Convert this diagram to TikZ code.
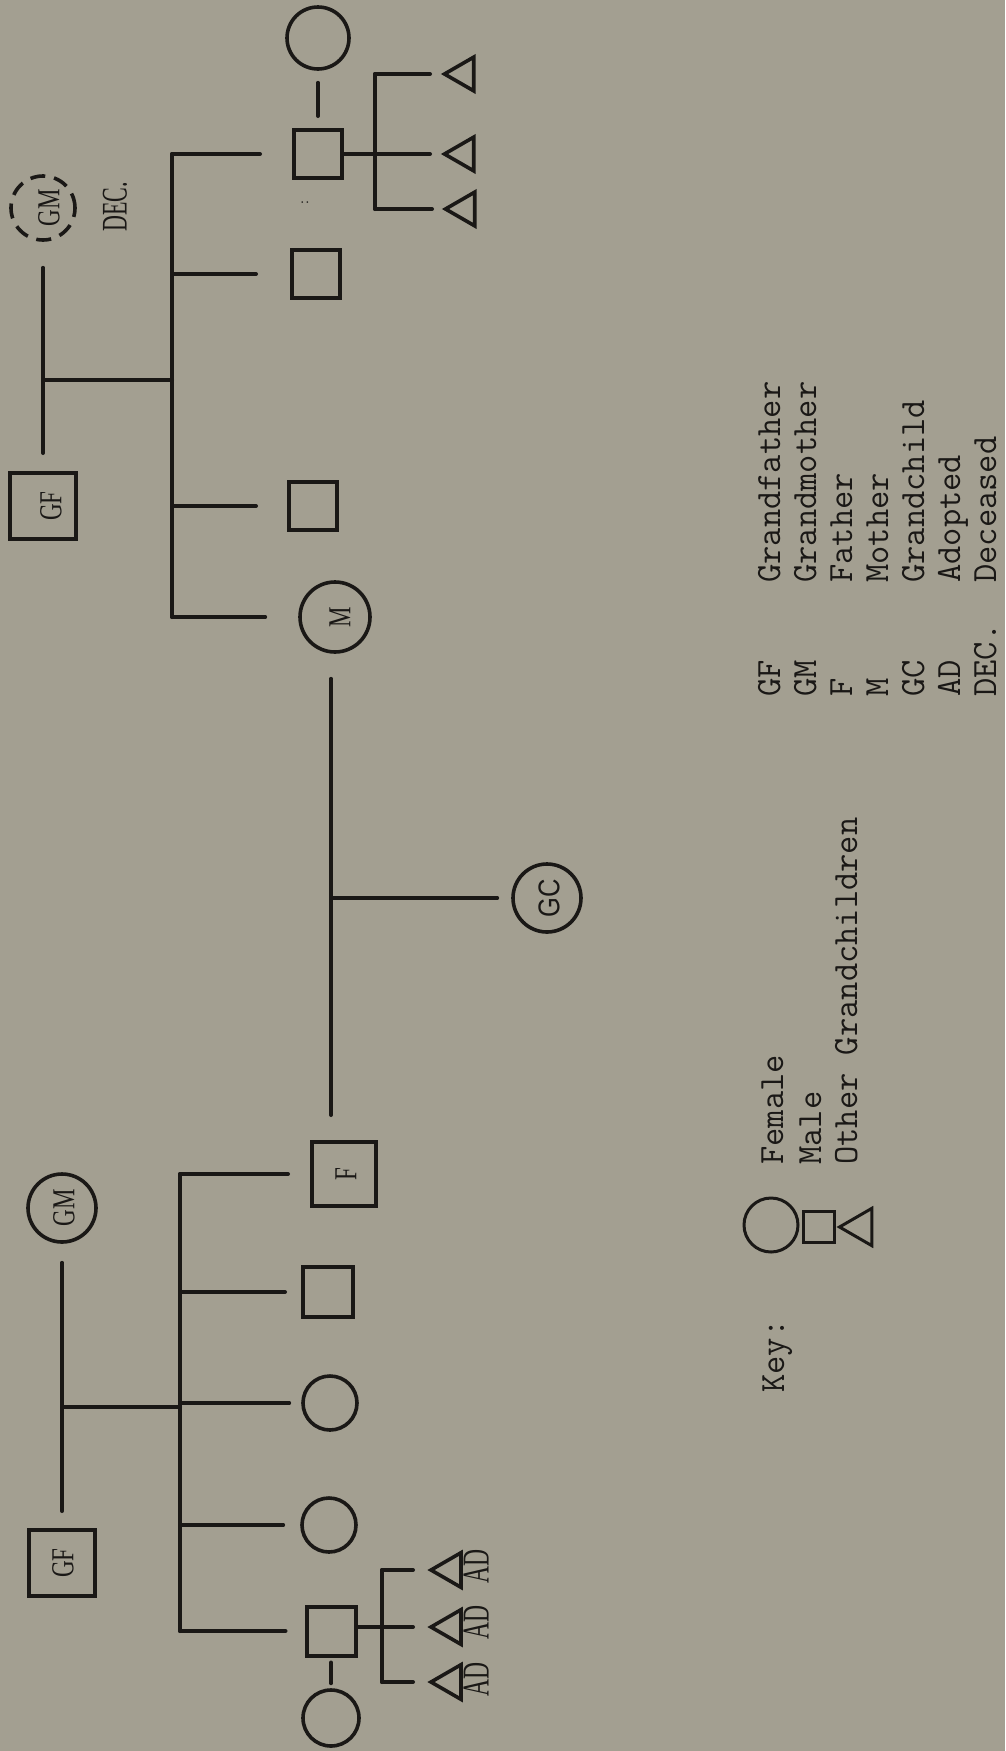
\documentclass[tikz,border=0pt]{standalone}
\usepackage{fontspec}
\newfontfamily\lserif{Liberation Serif}
\newfontfamily\lsans{Liberation Sans}
\usetikzlibrary{shapes.geometric}
\definecolor{paper}{RGB}{163,159,145}
\definecolor{ink}{RGB}{26,24,22}
\begin{document}
\begin{tikzpicture}[x=1pt,y=-1pt,
  ln/.style={draw=ink, line width=4pt, line cap=round},
  sq/.style={draw=ink, line width=4pt, rectangle, minimum size=#1, inner sep=0pt},
  circ/.style={draw=ink, line width=3.6pt, circle, minimum size=#1, inner sep=0pt},
  tri/.style={draw=ink, line width=3.6pt, regular polygon, regular polygon sides=3, rotate=90, minimum size=#1, inner sep=0pt},
  lbl/.style={text=ink, font=\lserif\fontsize{32}{32}\selectfont, rotate=90, xscale=0.72, inner sep=0pt},
  adlbl/.style={text=ink, font=\lserif\fontsize{38}{38}\selectfont, rotate=90, xscale=0.62, inner sep=0pt},
  gclbl/.style={text=ink, font=\lsans\fontsize{30}{30}\selectfont, rotate=90, xscale=0.85, inner sep=0pt},
  leg/.style={text=ink, font=\ttfamily\fontsize{35.5}{35.5}\selectfont, rotate=90, anchor=base west, inner sep=0pt},
]
\fill[paper] (0,0) rectangle (1005,1751);
\useasboundingbox (0,0) rectangle (1005,1751);

% ---------- right family (mother's side) ----------
\node[circ=64pt, dash pattern=on 15pt off 9pt] (rgm) at (43,208) {};
\node[lbl] (rgmt) at (49,208) {GM};
\node[lbl, font=\lserif\fontsize{36}{36}\selectfont, xscale=0.85] (dec) at (115,207) {DEC.};
\node[sq=66pt] (rgf) at (43,506) {};
\node[lbl] (rgft) at (51,506) {GF};
\coordinate (rj) at (43,380);
\coordinate (rsx) at (172,380);
\draw[ln, shorten <=26pt, shorten >=18pt] (rgm) -- (rgf);
\draw[ln] (rj) -- (rsx);

\node[circ=62pt] (rsp) at (318,38) {};
\node[sq=48pt] (rs1) at (318,154) {};
\node[sq=48pt] (rs2) at (316,274) {};
\node[sq=48pt] (rs3) at (313,506) {};
\node[circ=70pt] (rm) at (335,617) {};
\node[lbl] (rmt) at (340,617) {M};
\node[text=ink, font=\lserif\fontsize{14}{14}\selectfont, rotate=90, inner sep=0pt] (colon) at (305,203) {:};

\draw[ln] (rs1 -| rsx) -- (rm -| rsx);
\draw[ln, shorten >=32pt] (rs1 -| rsx) -- (rs1.west);
\draw[ln, shorten >=34pt] (rs2 -| rsx) -- (rs2.west);
\draw[ln, shorten >=31pt] (rs3 -| rsx) -- (rs3.west);
\draw[ln, shorten >=33pt] (rm -| rsx) -- (rm.west);
\draw[ln, shorten <=12pt, shorten >=12pt] (rsp) -- (rs1);

\node[tri=39pt] (rt1) at (464,74) {};
\node[tri=39pt] (rt2) at (464,154) {};
\node[tri=39pt] (rt3) at (465,209) {};
\coordinate (rbx) at (375,154);
\draw[ln] (rs1.east) -- ([xshift=-34pt]rt2.center);
\draw[ln] (rbx |- rt1) -- (rbx |- rt3);
\draw[ln] (rbx |- rt1) -- ([xshift=-34pt]rt1.center);
\draw[ln] (rbx |- rt3) -- ([xshift=-33pt]rt3.center);

% ---------- parents and grandchild ----------
\node[sq=64pt] (lf) at (344,1174) {};
\node[lbl] (lft) at (346,1174) {F};
\coordinate (fmx) at (331,898);
\draw[ln, shorten <=25pt, shorten >=25pt] (rm.south -| fmx) -- (lf.north -| fmx);
\node[circ=68pt] (gc) at (547,898) {};
\node[gclbl] (gct) at (549,898) {GC};
\draw[ln, shorten >=14pt] (fmx) -- (gc.west);

% ---------- left family (father's side) ----------
\node[circ=68pt] (lgm) at (62,1208) {};
\node[lbl] (lgmt) at (64,1208) {GM};
\node[sq=66pt] (lgf) at (62,1563) {};
\node[lbl] (lgft) at (63,1563) {GF};
\coordinate (lj) at (62,1407);
\coordinate (lsx) at (180,1407);
\draw[ln, shorten <=19pt, shorten >=17pt] (lgm) -- (lgf);
\draw[ln] (lj) -- (lsx);

\node[sq=50pt] (lsq) at (328,1292) {};
\node[circ=54pt] (lc1) at (330,1403) {};
\node[circ=54pt] (lc2) at (329,1525) {};
\node[sq=49pt] (ls5) at (331,1631) {};
\node[circ=56pt] (lsp) at (331,1718) {};

\draw[ln] (lf -| lsx) -- (ls5 -| lsx);
\draw[ln, shorten >=22pt] (lf -| lsx) -- (lf.west);
\draw[ln, shorten >=16pt] (lsq -| lsx) -- (lsq.west);
\draw[ln, shorten >=12pt] (lc1 -| lsx) -- (lc1.west);
\draw[ln, shorten >=17pt] (lc2 -| lsx) -- (lc2.west);
\draw[ln, shorten >=19pt] (ls5 -| lsx) -- (ls5.west);
\draw[ln, shorten <=5pt, shorten >=5pt] (ls5) -- (lsp);

\node[tri=40pt] (lt1) at (451,1570) {};
\node[tri=40pt] (lt2) at (451,1627) {};
\node[tri=40pt] (lt3) at (451,1682) {};
\coordinate (lbx) at (382,1627);
\draw[ln] (ls5.east |- lt2) -- ([xshift=-38pt]lt2.center);
\draw[ln] (lbx |- lt1) -- (lbx |- lt3);
\draw[ln] (lbx |- lt1) -- ([xshift=-38pt]lt1.center);
\draw[ln] (lbx |- lt3) -- ([xshift=-38pt]lt3.center);
\node[adlbl] (ad1) at (476,1566) {AD};
\node[adlbl] (ad2) at (476,1622) {AD};
\node[adlbl] (ad3) at (476,1679) {AD};

% ---------- key ----------
\node[leg] (key) at (784,1393) {Key:};
\node[circ=54pt, line width=3pt] (kc) at (771,1225) {};
\node[sq=31pt, line width=3pt] (ks) at (819,1227) {};
\node[tri=43pt, line width=3pt] (kt) at (861,1227) {};
\node[leg] (kfem) at (783,1165) {Female};
\node[leg] (kmal) at (821,1165) {Male};
\node[leg] (koth) at (857,1165) {Other Grandchildren};

\node[leg] (a1) at (780,697) {GF};
\node[leg] (a2) at (816,697) {GM};
\node[leg] (a3) at (852,697) {F};
\node[leg] (a4) at (888,697) {M};
\node[leg] (a5) at (924,697) {GC};
\node[leg] (a6) at (960,697) {AD};
\node[leg] (a7) at (996,697) {DEC.};
\node[leg] (w1) at (780,583) {Grandfather};
\node[leg] (w2) at (816,583) {Grandmother};
\node[leg] (w3) at (852,583) {Father};
\node[leg] (w4) at (888,583) {Mother};
\node[leg] (w5) at (924,583) {Grandchild};
\node[leg] (w6) at (960,583) {Adopted};
\node[leg] (w7) at (996,583) {Deceased};
\end{tikzpicture}
\end{document}
